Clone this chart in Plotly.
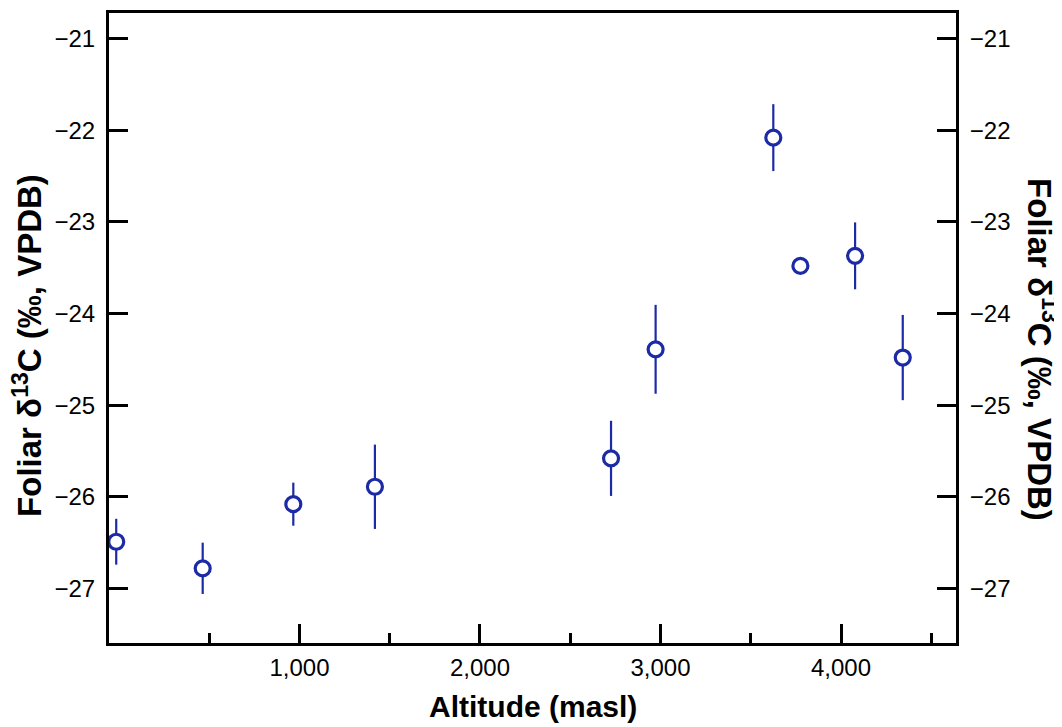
import plotly.graph_objects as go

# Data
altitude = [-15, 464, 966, 1418, 2726, 2973, 3625, 3775, 4078, 4342]
d13c = [-26.49, -26.78, -26.08, -25.89, -25.58, -24.39, -22.08, -23.48, -23.37, -24.48]
err = [0.25, 0.28, 0.235, 0.46, 0.41, 0.485, 0.365, 0.0, 0.365, 0.465]

x_major = [1000, 2000, 3000, 4000]
x_major_text = ["1,000", "2,000", "3,000", "4,000"]
x_minor = [500, 1500, 2500, 3500, 4500]
y_ticks = [-21, -22, -23, -24, -25, -26, -27]

BLUE = "#1c2aa6"
FONT = "Liberation Sans, Arial, sans-serif"
ytitle = "Foliar δ<sup>13</sup>C (‰, VPDB)"

fig = go.Figure()
fig.add_trace(go.Scatter(
    x=altitude, y=d13c, mode="markers",
    error_y=dict(type="data", array=err, visible=True, color=BLUE, thickness=2.2, width=0),
    marker=dict(symbol="circle", size=15, color="white", line=dict(color=BLUE, width=3.2)),
    showlegend=False,
))
# invisible trace on the secondary y axis so it renders
fig.add_trace(go.Scatter(x=[altitude[0]], y=[d13c[0]], yaxis="y2", mode="markers",
                         marker=dict(opacity=0), showlegend=False, hoverinfo="skip"))

xr = [-55, 4637]
yr = [-27.595, -20.72]

fig.update_layout(
    width=1054, height=719,
    margin=dict(l=101, r=106, t=2, b=84),
    paper_bgcolor="white", plot_bgcolor="white",
    font=dict(family=FONT, size=24, color="black"),
    xaxis=dict(
        range=xr, showgrid=False, zeroline=False,
        showline=True, linecolor="black", linewidth=3, mirror=True,
        ticks="inside", ticklen=19, tickwidth=3, tickcolor="black",
        tickvals=x_major, ticktext=x_major_text,
        tickfont=dict(size=24, family=FONT),
        minor=dict(tickvals=x_minor, ticks="inside", ticklen=10, tickwidth=3, tickcolor="black"),
        ticklabelstandoff=1,
    ),
    yaxis=dict(
        range=yr, showgrid=False, zeroline=False,
        showline=True, linecolor="black", linewidth=3,
        ticks="inside", ticklen=19, tickwidth=3, tickcolor="black",
        tickvals=y_ticks, tickfont=dict(size=24, family=FONT),
        ticklabelstandoff=6,
    ),
    yaxis2=dict(
        range=yr, overlaying="y", side="right", showgrid=False, zeroline=False,
        showline=True, linecolor="black", linewidth=3,
        ticks="inside", ticklen=19, tickwidth=3, tickcolor="black",
        tickvals=y_ticks, tickfont=dict(size=24, family=FONT),
        ticklabelstandoff=6,
    ),
    annotations=[
        dict(text="<b>Altitude (masl)</b>", xref="paper", yref="paper", x=0.5, y=-0.1011,
             xanchor="center", yanchor="middle", showarrow=False,
             font=dict(size=30, family=FONT, color="black")),
        dict(text="<b>" + ytitle + "</b>", xref="paper", yref="paper", x=-0.0965, y=0.472,
             xanchor="center", yanchor="middle", textangle=-90, showarrow=False,
             font=dict(size=33, family=FONT, color="black")),
        dict(text="<b>" + ytitle + "</b>", xref="paper", yref="paper", x=1.1015, y=0.465,
             xanchor="center", yanchor="middle", textangle=90, showarrow=False,
             font=dict(size=33, family=FONT, color="black")),
    ],
)

fig.write_html("out.html")
